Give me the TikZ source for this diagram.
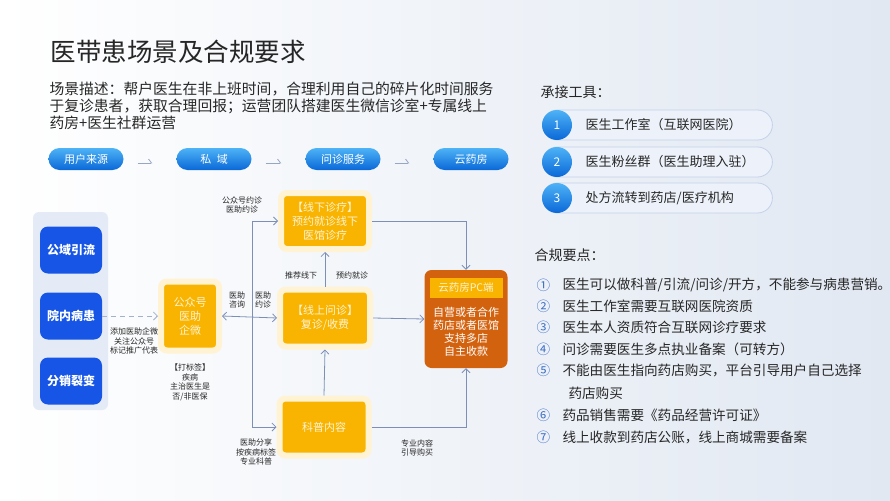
\documentclass[tikz,border=0pt]{standalone}
\usepackage{fontspec}
\setmainfont{Noto Sans CJK SC}
\usetikzlibrary{arrows.meta,calc,positioning}
\definecolor{Ink}{HTML}{262626}
\definecolor{Line}{HTML}{7C90B6}
\definecolor{PillTop}{HTML}{4DB3F6}
\definecolor{PillBot}{HTML}{0A68D8}
\definecolor{Deep}{HTML}{1655E6}
\definecolor{Gold}{HTML}{F8B400}
\definecolor{Cream}{HTML}{FFF3D4}
\definecolor{Rust}{HTML}{D3620F}
\definecolor{Panel}{HTML}{E4EBF7}
\definecolor{ToolBg}{HTML}{EDF2FA}
\definecolor{ToolLine}{HTML}{C3D1EA}
\definecolor{NumBlue}{HTML}{3C6FC6}
\definecolor{BgRight}{HTML}{E1E8F2}
\tikzset{stage/.style={rounded corners=11pt,top color=PillTop,bottom color=PillBot,minimum width=75pt,minimum height=22pt,text=white,font=\fontsize{11}{13}\selectfont},source/.style={rounded corners=8pt,fill=Deep,minimum width=62pt,minimum height=47pt,text=white,font=\fontsize{12}{14}\selectfont\bfseries},gold/.style={rounded corners=6pt,fill=Gold,draw=Cream,line width=6pt,outer sep=3pt,align=center,text=Cream,font=\fontsize{11}{14}\selectfont},note/.style={font=\fontsize{8}{9.5}\selectfont,align=center,text=Ink},flow/.style={-{Straight Barb[length=4pt,width=8pt]},draw=Line,line width=0.8pt},stagearrow/.style={-{Straight Barb[left,length=3pt,width=8pt]},draw=Line!80,line width=0.8pt,shorten <=14pt,shorten >=24pt},toolpill/.style={rounded corners=15pt,fill=ToolBg,draw=ToolLine,line width=0.8pt,minimum width=230pt,minimum height=30pt},numball/.style={circle,top color=PillTop,bottom color=PillBot,minimum size=30pt,inner sep=0pt,text=white,font=\fontsize{12}{14}\selectfont},tooltext/.style={anchor=west,text=Ink,font=\fontsize{13}{15}\selectfont},rule/.style={anchor=west,text=Ink,font=\fontsize{13.6}{15}\selectfont}}
\begin{document}
\begin{tikzpicture}[x=1pt,y=-1pt]
  \useasboundingbox (0,0) rectangle (890,500);
  \shade[left color=white,right color=BgRight] (0,0) rectangle (890,500);
  % title and description
  \node[anchor=west,text=Ink,font=\fontsize{25.5}{28}\selectfont](title) at (47,52){医带患场景及合规要求};
  \node[anchor=north west,align=left,text=Ink,font=\fontsize{14.8}{17}\selectfont](desc) at (46,78){场景描述：帮户医生在非上班时间，合理利用自己的碎片化时间服务\\于复诊患者，获取合理回报；运营团队搭建医生微信诊室+专属线上\\药房+医生社群运营};
  % stages
  \node[stage](origin) at (86,159){用户来源};
  \node[stage](priv) at (214,159){私\enspace 域};
  \node[stage](consult) at (343,159){问诊服务};
  \node[stage](cloud) at (471,159){云药房};
  \draw[stagearrow]([yshift=-4pt]origin.east)--([yshift=-4pt]priv.west);\draw[stagearrow]([yshift=-4pt]priv.east)--([yshift=-4pt]consult.west);\draw[stagearrow]([yshift=-4pt]consult.east)--([yshift=-4pt]cloud.west);
  % sources
  \fill[Panel,rounded corners=6pt](33,212) rectangle (108,410);
  \node[source](src1) at (71,250){公域引流};
  \node[source](src2) at (71,316){院内病患};
  \node[source](src3) at (71,381){分销裂变};
  % private domain
  \node[gold,minimum width=58pt,minimum height=69pt](wx) at (190,316){公众号\\医助\\企微};
  \draw[flow,dashed,draw=Line!70,dash pattern=on 5pt off 4pt](src2.east)--(wx.west);
  \node[note](addnote) at (134,341){添加医助企微\\关注公众号\\标记推广代表};
  \node[note,below=7pt of wx](tagnote){【打标签】\\疾病\\主治医生是\\否/非医保};
  % consultation
  \node[gold,minimum width=88pt,minimum height=56pt](off) at (325,221){【线下诊疗】\\预约就诊线下\\医馆诊疗};
  \node[gold,minimum width=90pt,minimum height=57pt](online) at (325,318){【线上问诊】\\复诊/收费};
  \node[gold,minimum width=89pt,minimum height=57pt](sci) at (324,427){科普内容};
  \coordinate (split) at (252,318);
  \draw[flow](split)|-(off.west);\draw[flow](split)|-(sci.west);
  \draw[flow,{Straight Barb[length=4pt,width=8pt]}-{Straight Barb[length=4pt,width=8pt]}](wx.east)--(online.west);
  \draw[flow](online.north)--(off.south);\draw[flow](sci.north)--(online.south);
  \node[note](booknote) at (242,205){公众号约诊\\医助约诊};
  \node[note](asknote) at (237,300){医助\\咨询};
  \node[note](apptnote) at (263,300){医助\\约诊};
  \node[note](recnote) at (301,275){推荐线下};
  \node[note](visitnote) at (352,275){预约就诊};
  \node[note](sharenote) at (256,452){医助分享\\按疾病标签\\专业科普};
  % cloud pharmacy
  \node[fill=Rust,rounded corners=7pt,minimum width=83pt,minimum height=98pt](pharm) at (466,319){};
  \node[fill=Gold,minimum width=73pt,minimum height=20pt,text=Cream,font=\fontsize{10.5}{12}\selectfont](pharmhead) at (466,288){云药房PC端};
  \node[align=center,text=white,font=\fontsize{11}{13}\selectfont](pharmbody) at (466,332){自营或者合作\\药店或者医馆\\支持多店\\自主收款};
  \draw[flow](online.east)--(pharm.west);
  \draw[flow](off.east)-|(pharm.north);
  \draw[flow](sci.east)-|(pharm.south);
  \node[note](buynote) at (417,448){专业内容\\引导购买};
  % tools
  \node[anchor=west,text=Ink,font=\fontsize{14}{16}\selectfont](toolhead) at (537,92){承接工具：};
  \node[toolpill,anchor=west](pill1) at (542,125){};
  \node[toolpill,anchor=west](pill2) at (542,162){};
  \node[toolpill,anchor=west](pill3) at (542,198){};
  \node[numball](ball1) at (557,125){1};
  \node[numball](ball2) at (557,162){2};
  \node[numball](ball3) at (557,198){3};
  \node[tooltext,right=10pt of ball1](tool1){医生工作室（互联网医院）};
  \node[tooltext,right=10pt of ball2](tool2){医生粉丝群（医生助理入驻）};
  \node[tooltext,right=10pt of ball3](tool3){处方流转到药店/医疗机构};
  % compliance
  \node[anchor=west,text=Ink,font=\fontsize{14}{16}\selectfont](rulehead) at (531,255){合规要点：};
  \node[rule,text=NumBlue](r1n) at (533,285){①};\node[rule](r1) at (559,285){医生可以做科普/引流/问诊/开方，不能参与病患营销。};
  \node[rule,text=NumBlue](r2n) at (533,306){②};\node[rule](r2) at (559,306){医生工作室需要互联网医院资质};
  \node[rule,text=NumBlue](r3n) at (533,327){③};\node[rule](r3) at (559,327){医生本人资质符合互联网诊疗要求};
  \node[rule,text=NumBlue](r4n) at (533,349){④};\node[rule](r4) at (559,349){问诊需要医生多点执业备案（可转方）};
  \node[rule,text=NumBlue](r5n) at (533,370){⑤};\node[rule](r5) at (559,370){不能由医生指向药店购买，平台引导用户自己选择};
  \node[rule](r5b) at (565,393){药店购买};
  \node[rule,text=NumBlue](r6n) at (533,415){⑥};\node[rule](r6) at (559,415){药品销售需要《药品经营许可证》};
  \node[rule,text=NumBlue](r7n) at (533,437){⑦};\node[rule](r7) at (559,437){线上收款到药店公账，线上商城需要备案};
\end{tikzpicture}
\end{document}
